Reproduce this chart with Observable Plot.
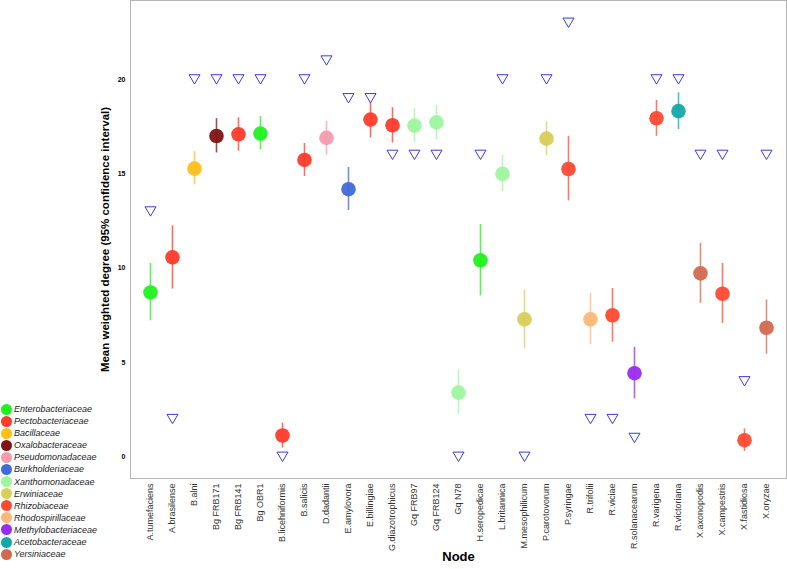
<!DOCTYPE html>
<html><head><meta charset="utf-8">
<script src="https://cdn.jsdelivr.net/npm/d3@7"></script>
<script src="https://cdn.jsdelivr.net/npm/@observablehq/plot@0.6"></script>
<style>
body{margin:0;background:#fff;font-family:"Liberation Sans",Arial,sans-serif}
#wrap{position:relative;width:787px;height:569px}
#legend{position:absolute;left:0;top:403px;font-size:9px;font-style:italic;color:#222;line-height:12.1px}
#legend .row{display:flex;align-items:center;height:12.1px}
#legend .sw{width:11px;height:11px;border-radius:50%;margin-left:1px;margin-right:2px}
svg [aria-label="y-axis label"] text{font-size:11.5px;font-weight:bold;fill:#000}
svg [aria-label="x-axis label"] text{font-size:13px;font-weight:bold;fill:#000}
</style></head><body><div id="wrap"></div>
<script>
const nodes = ["A.tumefaciens","A.brasilense","B.alni","Bg FRB171","Bg FRB141","Bg OBR1","B.licehniformis","B.salicis","D.dadantii","E.amylovora","E.billingiae","G.diazotrophicus","Gq FRB97","Gq FRB124","Gq N78","H.seropedicae","L.britannica","M.mesophilicum","P.carotovorum","P.syringae","R.trifolii","R.viciae","R.solanacearum","R.varigena","R.victoriana","X.axonopodis","X.campestris","X.fastidiosa","X.oryzae"];
const families = ["Enterobacteriaceae","Pectobacteriaceae","Bacillaceae","Oxalobacteraceae","Pectobacteriaceae","Enterobacteriaceae","Pectobacteriaceae","Pectobacteriaceae","Pseudomonadaceae","Burkholderiaceae","Pectobacteriaceae","Pectobacteriaceae","Xanthomonadaceae","Xanthomonadaceae","Xanthomonadaceae","Enterobacteriaceae","Xanthomonadaceae","Erwiniaceae","Erwiniaceae","Rhizobiaceae","Rhodospirillaceae","Rhizobiaceae","Methylobacteriaceae","Rhizobiaceae","Acetobacteraceae","Yersiniaceae","Rhizobiaceae","Rhizobiaceae","Yersiniaceae"];
const means = [8.71,10.57,15.27,17.0,17.09,17.13,1.13,15.73,16.9,14.18,17.87,17.57,17.55,17.72,3.4,10.41,14.99,7.28,16.86,15.25,7.28,7.5,4.43,17.94,18.32,9.72,8.64,0.88,6.84];
const lower = [7.21,8.89,14.41,16.1,16.19,16.26,0.46,14.85,15.98,13.05,16.9,16.63,16.63,16.8,2.26,8.53,14.04,5.75,15.96,13.56,5.93,6.07,3.07,16.98,17.34,8.13,7.07,0.28,5.43];
const upper = [10.25,12.24,16.17,17.92,17.97,18.03,1.78,16.6,17.78,15.33,18.77,18.5,18.47,18.62,4.6,12.31,15.98,8.84,17.76,16.98,8.66,8.92,5.8,18.89,19.29,11.31,10.25,1.48,8.31];
const reference = [13,2,20,20,20,20,0,20,21,19,19,16,16,16,0,16,20,0,20,23,2,2,1,20,20,16,16,4,16];
const familyOrder = ["Enterobacteriaceae","Pectobacteriaceae","Bacillaceae","Oxalobacteraceae","Pseudomonadaceae","Burkholderiaceae","Xanthomonadaceae","Erwiniaceae","Rhizobiaceae","Rhodospirillaceae","Methylobacteriaceae","Acetobacteraceae","Yersiniaceae"];
const familyColors = ["#1ef21e","#ff3b2a","#ffbe1a","#7e1515","#f59bae","#3f6ad8","#9ef59e","#d8ce5a","#ff4a33","#fdb777","#9b2bf0","#14a9a9","#d2694e"];
const yTicks = [0,5,10,15,20];

const data = nodes.map((n,i)=>({node:n,family:families[i],mean:means[i],lo:lower[i],hi:upper[i],ref:reference[i]}));
const downTriangle = {draw(ctx,size){const r=Math.sqrt(size/Math.PI);const w=r*1.0,h=r*0.85;ctx.moveTo(-w,-h);ctx.lineTo(w,-h);ctx.lineTo(0,h);ctx.closePath();}};

const chart = Plot.plot({
  width:787, height:569,
  marginLeft:130, marginRight:1, marginTop:0, marginBottom:91,
  style:{fontFamily:'"Liberation Sans",Arial,sans-serif',background:"#fff"},
  x:{type:"point",domain:nodes,padding:0.6},
  y:{domain:[-1.15,24.18]},
  color:{domain:familyOrder,range:familyColors},
  marks:[
    Plot.frame({stroke:"#b5b5b5"}),
    Plot.axisY({ticks:yTicks,tickSize:0,tickPadding:5,fontSize:7,fontWeight:"bold",fill:"#000",label:"Mean weighted degree (95% confidence interval)",labelArrow:"none",labelAnchor:"center",labelOffset:30}),
    Plot.axisX({tickRotate:-90,tickSize:0,tickPadding:5,fontSize:9,fill:"#333",label:"Node",labelArrow:"none",labelAnchor:"center",labelOffset:82}),
    Plot.ruleX(data,{x:"node",y1:"lo",y2:"hi",stroke:"family",strokeWidth:1.6,strokeOpacity:0.75}),
    Plot.dot(data,{x:"node",y:"mean",fill:"family",r:7.3,fillOpacity:0.95}),
    Plot.dot(data,{x:"node",y:"ref",symbol:downTriangle,r:5.5,stroke:"#3b3bd0",strokeWidth:1,fill:"none"})
  ]
});
const wrap=document.getElementById("wrap");
wrap.appendChild(chart);
const legend=document.createElement("div");legend.id="legend";
familyOrder.forEach((f,i)=>{const row=document.createElement("div");row.className="row";const sw=document.createElement("span");sw.className="sw";sw.style.background=familyColors[i];const t=document.createElement("span");t.textContent=f;row.appendChild(sw);row.appendChild(t);legend.appendChild(row);});
wrap.appendChild(legend);
</script></body></html>
